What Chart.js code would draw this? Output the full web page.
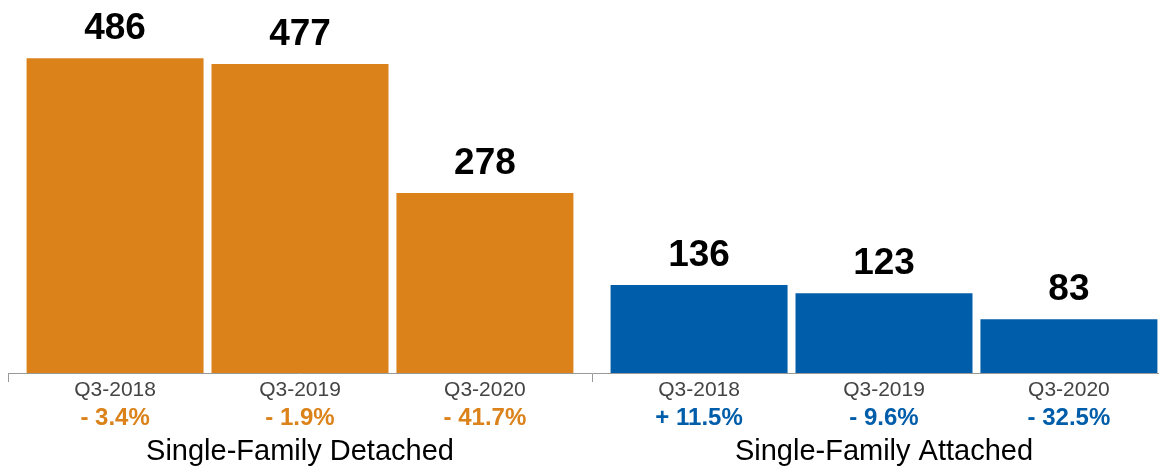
<!DOCTYPE html>
<html>
<head>
<meta charset="utf-8">
<script src="https://cdn.jsdelivr.net/npm/chart.js@4"></script>
<style>
  html, body { margin: 0; padding: 0; background: #fff; overflow: hidden; }
  #wrap { width: 1176px; height: 468px; }
</style>
</head>
<body>
<div id="wrap"><canvas id="canvas" width="1176" height="468"></canvas></div>
<script>
// housing types (x categories) and the quarters drawn inside each one
var groups = ['Single-Family Detached', 'Single-Family Attached'];
var periods = ['Q3-2018', 'Q3-2019', 'Q3-2020'];

var detached = [486, 477, 278];
var attached = [136, 123, 83];

// year-over-year change shown under each quarter
var detachedChange = ['- 3.4%', '- 1.9%', '- 41.7%'];
var attachedChange = ['+ 11.5%', '- 9.6%', '- 32.5%'];

var groupColors = ['#db821b', '#005da9'];
var fontFamily = '"Liberation Sans", Arial, Helvetica, sans-serif';

var datasets = [];
for (var i = 0; i < periods.length; i++) {
    datasets.push({
        label: periods[i],
        data: [detached[i], attached[i]],
        backgroundColor: groupColors,
        borderWidth: 0,
        categoryPercentage: 0.95,
        barPercentage: 0.957
    });
}

// numbers above bars, quarter + change under them, group names at the bottom
var barLabels = {
    id: 'barLabels',
    afterDraw: function(chart) {
        var ctx = chart.ctx;
        var changes = [detachedChange, attachedChange];
        ctx.save();
        ctx.textAlign = 'center';
        ctx.textBaseline = 'alphabetic';
        chart.data.datasets.forEach(function(ds, i) {
            var meta = chart.getDatasetMeta(i);
            meta.data.forEach(function(bar, j) {
                ctx.fillStyle = '#000';
                ctx.font = 'bold 37px ' + fontFamily;
                ctx.fillText(String(ds.data[j]), bar.x, bar.y - 19);

                ctx.fillStyle = '#444';
                ctx.font = '21px ' + fontFamily;
                ctx.fillText(ds.label, bar.x, 396);

                ctx.fillStyle = groupColors[j];
                ctx.font = 'bold 24px ' + fontFamily;
                ctx.fillText(changes[j][i], bar.x, 425);
            });
        });
        var xs = chart.scales.x;
        ctx.fillStyle = '#000';
        ctx.font = '29px ' + fontFamily;
        groups.forEach(function(g, k) {
            ctx.fillText(g, xs.getPixelForValue(k), 460);
        });
        ctx.restore();
    }
};

var ctx = document.getElementById('canvas').getContext('2d');
window.myBar = new Chart(ctx, {
    type: 'bar',
    data: { labels: groups, datasets: datasets },
    plugins: [barLabels],
    options: {
        responsive: false,
        animation: false,
        layout: { padding: { left: 8, right: 0, top: 0, bottom: 0 } },
        plugins: {
            legend: { display: false },
            tooltip: { enabled: false }
        },
        scales: {
            x: {
                grid: {
                    offset: true,
                    drawOnChartArea: false,
                    drawTicks: true,
                    tickLength: 9,
                    color: '#999'
                },
                border: { display: true, color: '#999', width: 1 },
                ticks: { display: false },
                afterFit: function(scale) { scale.height = 95; }
            },
            y: {
                display: false,
                min: 0,
                max: 576
            }
        }
    }
});
</script>
</body>
</html>
